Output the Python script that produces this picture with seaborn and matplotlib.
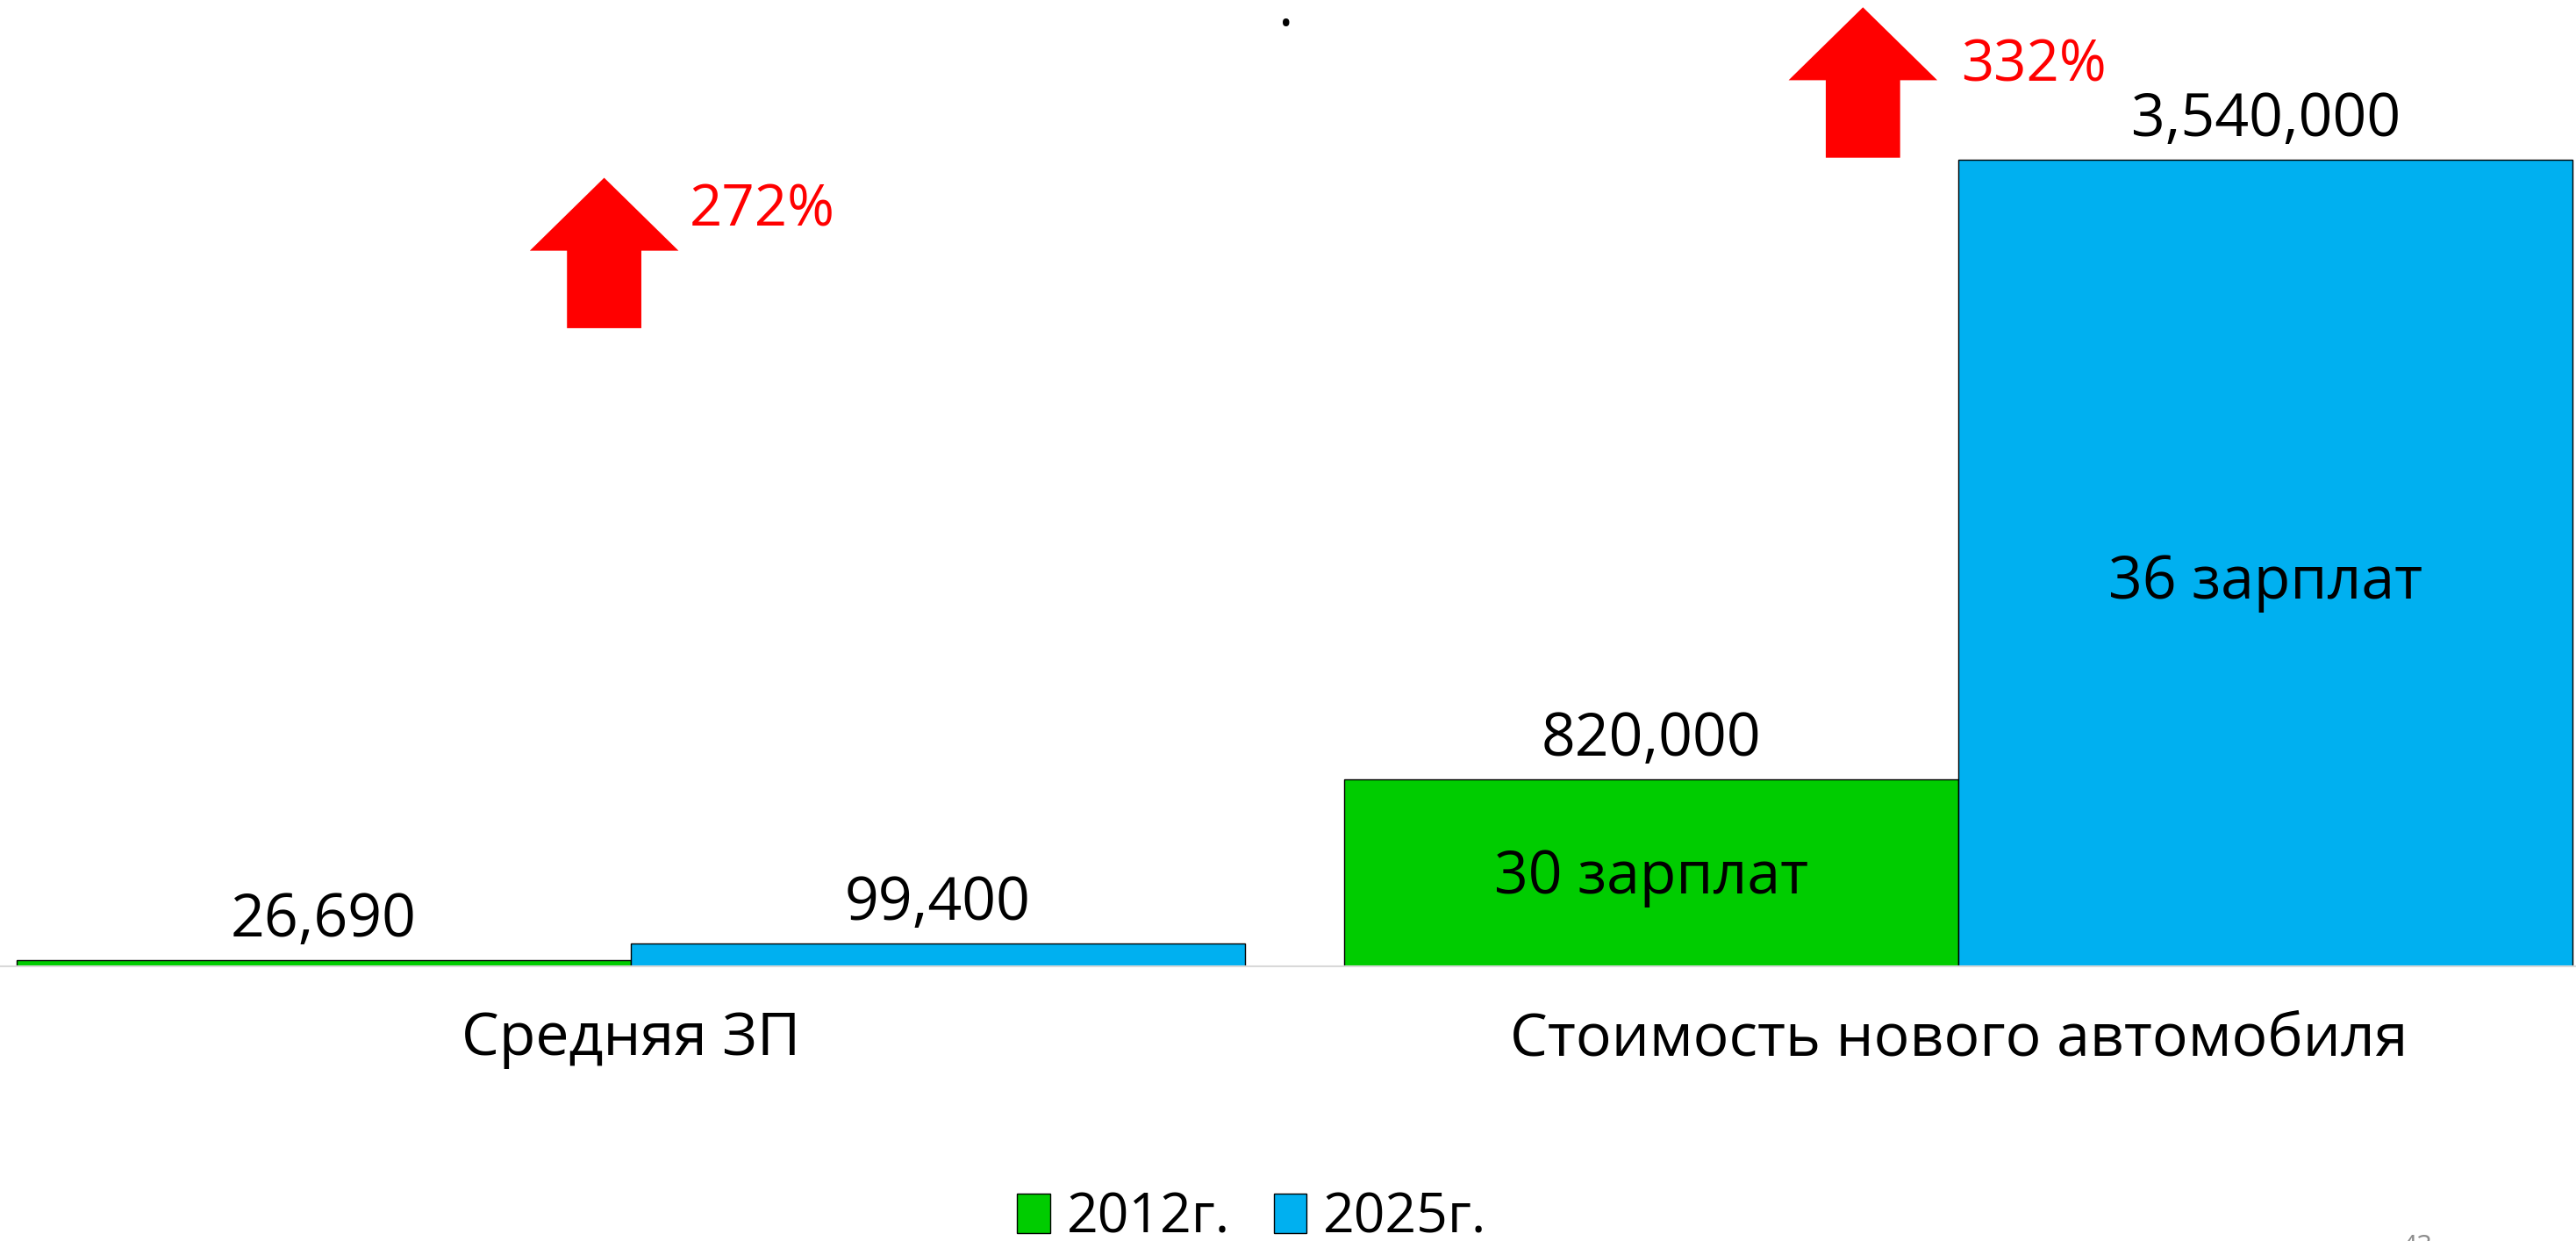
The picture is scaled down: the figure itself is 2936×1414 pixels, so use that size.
import matplotlib
matplotlib.use("Agg")
import matplotlib.pyplot as plt
import seaborn as sns
import pandas as pd
from matplotlib.patches import Polygon, Patch

categories = ["Средняя ЗП", "Стоимость нового автомобиля"]
years = ["2012г.", "2025г."]
values_2012 = [26690, 820000]
values_2025 = [99400, 3540000]
inner_2012 = ["", "30 зарплат"]
inner_2025 = ["", "36 зарплат"]
growth_labels = ["272%", "332%"]
colors = ["#00CC00", "#00B0F0"]

df = pd.DataFrame({
    "cat": categories * 2,
    "year": [years[0]] * 2 + [years[1]] * 2,
    "value": values_2012 + values_2025,
})

sns.set_theme(style="white")
plt.rcParams["font.family"] = ["Open Sans", "DejaVu Sans"]
plt.rcParams["text.color"] = "black"
plt.rcParams["xtick.color"] = "black"
FS = 49

W, H = 2936, 1414
fig = plt.figure(figsize=(W / 100, H / 100), dpi=100)
base_px = 1101
ax = fig.add_axes([0, (H - base_px) / H, 1, base_px / H])

sns.barplot(data=df, x="cat", y="value", hue="year", order=categories,
            hue_order=years, palette=colors, width=0.925, gap=0,
            edgecolor="black", linewidth=1.0, legend=False, ax=ax,
            saturation=1)

ax.set_xlim(-0.475, 1.465)
ax.set_ylim(0, 4.24e6)
for s in ["top", "right", "left"]:
    ax.spines[s].set_visible(False)
ax.spines["bottom"].set_color("#D9D9D9")
ax.spines["bottom"].set_linewidth(1.5)
ax.set_yticks([])
ax.set_xlabel("")
ax.set_ylabel("")
ax.tick_params(axis="x", length=0, pad=36, labelsize=FS, labelcolor="black")

for c, inner in zip(ax.containers, [inner_2012, inner_2025]):
    ax.bar_label(c, labels=[f"{v:,.0f}" for v in c.datavalues], padding=8,
                 fontsize=FS, color="black")
    for patch, lab in zip(c.patches, inner):
        if lab:
            ax.text(patch.get_x() + patch.get_width() / 2, patch.get_height() * 0.475,
                    lab, ha="center", va="center", fontsize=FS, color="black")

# growth arrows (drawn in data coordinates relative to group centres)
arrow_specs = [(0 - 0.02, 2.80e6, 0.064, -0.02e6), (1 - 0.072, 3.548e6, 0.074, -0.13e6)]
for (xc, yb, tdx, tdy), lab in zip(arrow_specs, growth_labels):
    hw, sw, hh, total = 0.056, 0.028, 0.32e6, 0.66e6
    pts = [(xc - sw, yb), (xc + sw, yb), (xc + sw, yb + total - hh),
           (xc + hw, yb + total - hh), (xc, yb + total),
           (xc - hw, yb + total - hh), (xc - sw, yb + total - hh)]
    ax.add_patch(Polygon(pts, closed=True, facecolor="#FF0000", edgecolor="none"))
    ax.text(xc + tdx, yb + total + tdy, lab, color="#FF0000", fontsize=FS - 2,
            ha="left", va="top")

fig.text(1466 / W, 1 - 30 / H, "•", fontsize=26, ha="center", va="center", color="black")

handles = [Patch(facecolor=colors[i], edgecolor="black", linewidth=1.0, label=years[i])
           for i in range(2)]
fig.legend(handles=handles, loc="center", bbox_to_anchor=(1427 / W, 1 - 1388 / H),
           ncol=2, frameon=False, fontsize=45, handlelength=0.6, handleheight=0.75,
           handletextpad=0.3, columnspacing=0.8, borderpad=0, labelcolor="black")

fig.text(2755 / W, 1 - 1406 / H, "43", fontsize=22, color="#8C8C8C", ha="center", va="top")

fig.savefig("out.png", dpi=100)
